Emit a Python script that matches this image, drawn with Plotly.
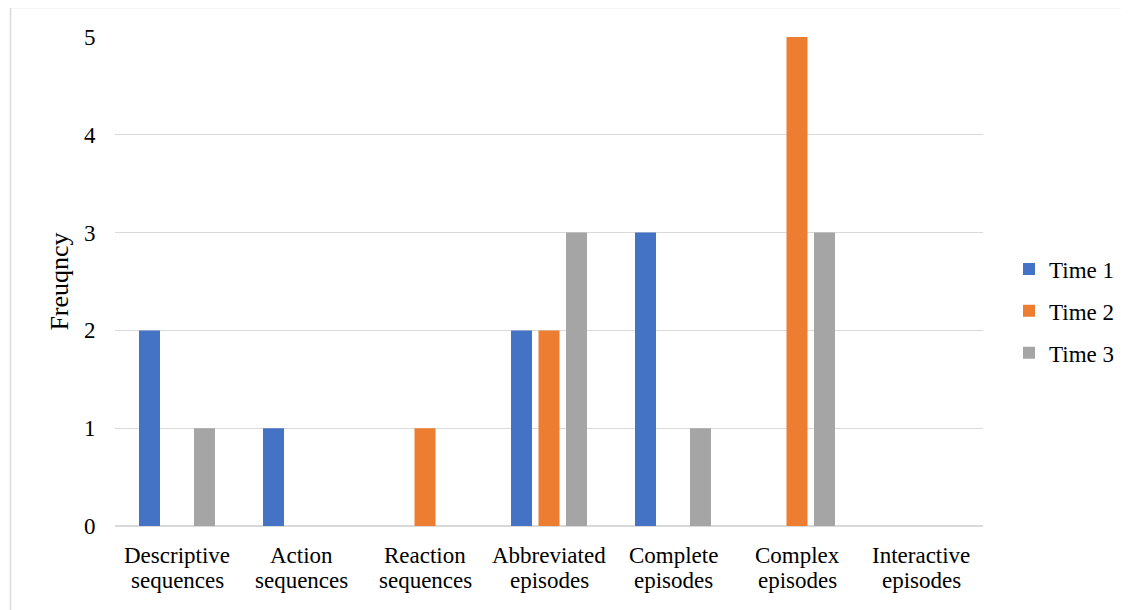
import plotly.graph_objects as go

categories = ["Descriptive<br>sequences", "Action<br>sequences", "Reaction<br>sequences",
              "Abbreviated<br>episodes", "Complete<br>episodes", "Complex<br>episodes",
              "Interactive<br>episodes"]
time1 = [2, 1, 0, 2, 3, 0, 0]
time2 = [0, 0, 1, 2, 0, 5, 0]
time3 = [1, 0, 0, 3, 1, 3, 0]
series_names = ["Time 1", "Time 2", "Time 3"]
colors = ["#4472C4", "#ED7D31", "#A5A5A5"]

# page body has an 8px margin; compensate so the figure lands at the reference position
OFF = 8
W, H = 1129 - OFF, 610 - OFF
L, T = 115 - OFF, 37 - OFF
pw, ph = 868, 489
R, B = W - L - pw, H - T - ph

FAMILY = "Liberation Serif"
font = dict(family=FAMILY, size=23, color="#000000")


def px_x(x):  # reference pixel -> paper x
    return (x - 115) / pw


def px_y(y):  # reference pixel -> paper y
    return (526 - y) / ph


fig = go.Figure()
for name, vals, c in zip(series_names, [time1, time2, time3], colors):
    fig.add_trace(go.Bar(x=categories, y=vals, name=name,
                         marker=dict(color=c, line=dict(width=0)), legendgroup=name))

fig.update_layout(
    width=W, height=H,
    margin=dict(l=L, r=R, t=T, b=B, autoexpand=False),
    paper_bgcolor="white", plot_bgcolor="white",
    font=font,
    barmode="group", bargap=0.335, bargroupgap=0.236,
    legend=dict(x=px_x(1009), y=px_y(311), xanchor="left", yanchor="middle",
                font=font, tracegroupgap=9, itemwidth=30),
    showlegend=True,
)

fig.update_yaxes(range=[0, 5], dtick=1, showgrid=True, gridcolor="#d9d9d9", gridwidth=1,
                 zeroline=True, zerolinecolor="#d9d9d9", zerolinewidth=1.5,
                 showline=False, ticks="outside", ticklen=14, tickcolor="rgba(0,0,0,0)",
                 tickfont=font,
                 title=dict(text="Freuqncy", font=dict(family=FAMILY, size=26), standoff=7))
fig.update_xaxes(showgrid=False, showline=False, showticklabels=False, ticks="")

# two-line category labels with tighter line spacing, placed on the category axis
for cat in categories:
    first, second = cat.split("<br>")
    fig.add_annotation(x=cat, xref="x", y=px_y(555), yref="paper", text=first,
                       showarrow=False, yanchor="middle", font=font)
    fig.add_annotation(x=cat, xref="x", y=px_y(580), yref="paper", text=second,
                       showarrow=False, yanchor="middle", font=font)

# outer chart border
fig.add_shape(type="rect", xref="paper", yref="paper",
              x0=px_x(10.5), x1=px_x(1160), y0=px_y(660), y1=px_y(7.5),
              line=dict(color="#d9d9d9", width=1.5), fillcolor="rgba(0,0,0,0)", layer="below")

fig.write_html("out.html")
